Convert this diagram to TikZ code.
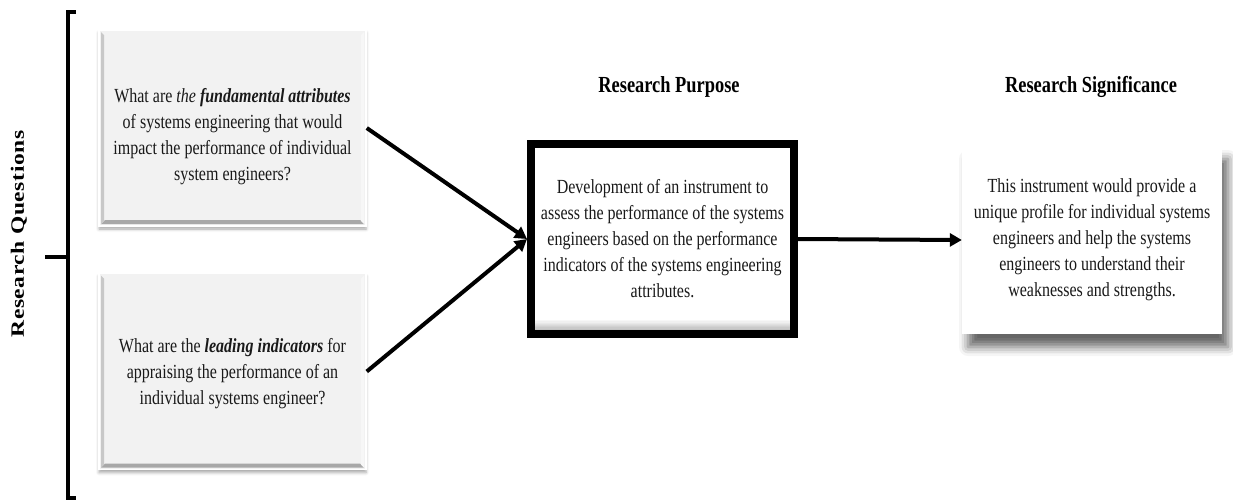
\documentclass[tikz,border=0pt]{standalone}
\usepackage{fontspec}
\setmainfont{Liberation Serif}[FakeStretch=0.8]
\newfontfamily\sidefont{Liberation Serif}[LetterSpace=2.5]
\usetikzlibrary{arrows.meta,shadows.blur}
\definecolor{qfill}{HTML}{F2F2F2}
\definecolor{qedge}{HTML}{A8A8A8}
\definecolor{qside}{HTML}{C8C8C8}
\begin{document}
\begin{tikzpicture}[x=1pt,y=-1pt,
  body/.style={font=\fontsize{20}{26}\selectfont, align=center, text=black!90},
  heading/.style={font=\fontsize{23}{28}\selectfont\bfseries, anchor=base},
  qbox/.style={draw=white, line width=1.5pt, fill=qfill,
    minimum width=267pt, minimum height=196pt, inner sep=0pt,
    blur shadow={shadow xshift=0pt, shadow yshift=-3pt, shadow blur radius=3pt, shadow opacity=35},
    path picture={
      \fill[qedge] ([shift={(2pt,2pt)}]path picture bounding box.south west)
        -- ([shift={(-2pt,2pt)}]path picture bounding box.south east)
        -- ([shift={(-6pt,6pt)}]path picture bounding box.south east)
        -- ([shift={(6pt,6pt)}]path picture bounding box.south west) -- cycle;
      \fill[qside] ([shift={(2pt,2pt)}]path picture bounding box.south west)
        -- ([shift={(2pt,-2pt)}]path picture bounding box.north west)
        -- ([shift={(5pt,-5pt)}]path picture bounding box.north west)
        -- ([shift={(5pt,5pt)}]path picture bounding box.south west) -- cycle;
      \fill[white!97!black] ([shift={(-2pt,2pt)}]path picture bounding box.south east)
        -- ([shift={(-2pt,-2pt)}]path picture bounding box.north east)
        -- ([shift={(-5pt,-5pt)}]path picture bounding box.north east)
        -- ([shift={(-5pt,5pt)}]path picture bounding box.south east) -- cycle;
    }},
  purpose/.style={draw=black, line width=8pt, fill=white,
    minimum width=263pt, minimum height=190pt, inner sep=0pt,
    path picture={
      % soft grey fade along the inner bottom edge
      \foreach \k in {1,...,10}{
        \fill[black!\the\numexpr 3*\k\relax]
          ([yshift={15pt-1.2pt*\k}]path picture bounding box.south west)
          rectangle ([yshift={13.8pt-1.2pt*\k}]path picture bounding box.south east);
      }
    }},
  signif/.style={fill=white, minimum width=260pt, minimum height=188pt, inner sep=0pt,
    blur shadow={shadow xshift=6pt, shadow yshift=-13pt, shadow blur radius=9pt, shadow opacity=60}},
  link/.style={line width=4pt, -{Triangle[length=12pt,width=13pt]}}
]
\useasboundingbox (0,0) rectangle (1233,501);

% bracket grouping the research questions
\coordinate (bt) at (76,12);
\coordinate (btc) at (68,12);
\coordinate (bbc) at (68,498);
\coordinate (bb) at (76,498);
\coordinate (bm) at (68,257);
\coordinate (bmt) at (45,257);
\draw[line width=3.5pt, line join=miter] (bt) -- (btc) -- (bbc) -- (bb);
\draw[line width=3.5pt] (bm) -- (bmt);
\node[rotate=90, inner sep=0pt] (rqlabel) at (19,234)
  {\scalebox{1}[0.8]{\fontsize{23.5}{26}\selectfont\sidefont\bfseries Research Questions}};

% question boxes
\node[qbox] (q1) at (232.5,128) {};
\node[body] (q1text) at (232.5,137)
  {What are \textit{the} \textbf{\textit{fundamental attributes}}\\
   of systems engineering that would\\
   impact the performance of individual\\
   system engineers?};
\node[qbox] (q2) at (232.5,371.5) {};
\node[body] (q2text) at (232.5,374)
  {What are the \textbf{\textit{leading indicators}} for\\
   appraising the performance of an\\
   individual systems engineer?};

% purpose and significance
\node[heading] (hpurpose) at (669,92) {Research Purpose};
\node[purpose, body] (purpose) at (662.5,239)
  {Development of an instrument to\\
   assess the performance of the systems\\
   engineers based on the performance\\
   indicators of the systems engineering\\
   attributes.};

\node[heading] (hsignif) at (1091,92) {Research Significance};
\node[signif, body] (signif) at (1092,240)
  {This instrument would provide a\\
   unique profile for individual systems\\
   engineers and help the systems\\
   engineers to understand their\\
   weaknesses and strengths.};

% connectors
\draw[link] (q1.east) -- (purpose.west);
\draw[link] (q2.east) -- (purpose.west);
\draw[link] (purpose.east) -- (signif.west);
\end{tikzpicture}
\end{document}
